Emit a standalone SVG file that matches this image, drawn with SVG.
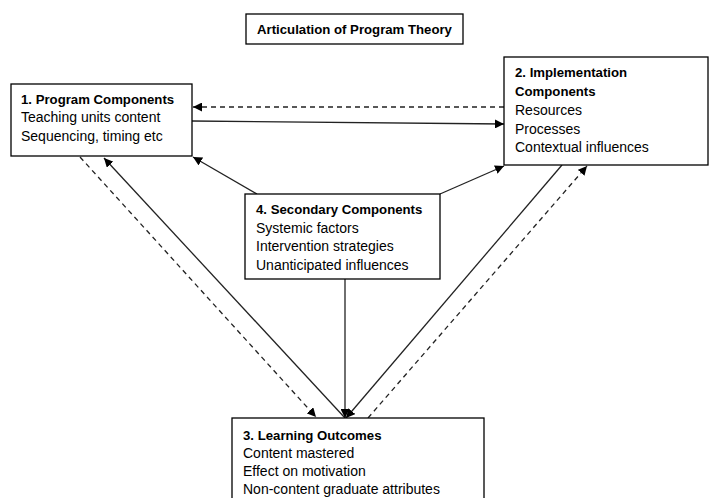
<svg xmlns="http://www.w3.org/2000/svg" width="709" height="498" viewBox="0 0 709 498">
<defs>
<marker id="ah" viewBox="0 0 10 10" refX="10" refY="5" markerWidth="9" markerHeight="9" markerUnits="userSpaceOnUse" orient="auto">
<path d="M0,0 L10,5 L0,10 z" fill="#000"/>
</marker>
<style>
.box{fill:#fff;stroke:#000;stroke-width:1.3}
text{font-family:"Liberation Sans",Arial,sans-serif;font-size:14px;fill:#000}
.b{font-weight:bold;font-size:13.2px}
.ln{stroke:#222;stroke-width:1.3;fill:none}
.d{stroke-dasharray:5,4}
</style>
</defs>
<rect width="709" height="498" fill="#fff"/>
<g id="connectors">
<line class="ln d" x1="504" y1="107" x2="193" y2="107" marker-end="url(#ah)"/>
<line class="ln" x1="192" y1="121" x2="504" y2="124" marker-end="url(#ah)"/>
<line class="ln" x1="257" y1="194" x2="193" y2="157" marker-end="url(#ah)"/>
<line class="ln" x1="440" y1="194" x2="504" y2="166" marker-end="url(#ah)"/>
<line class="ln d" x1="80" y1="157" x2="316" y2="417" marker-end="url(#ah)"/>
<line class="ln" x1="345" y1="418" x2="104" y2="158" marker-end="url(#ah)"/>
<line class="ln" x1="345" y1="279" x2="345" y2="418" marker-end="url(#ah)"/>
<line class="ln" x1="562" y1="165" x2="346" y2="418" marker-end="url(#ah)"/>
<line class="ln d" x1="368" y1="418" x2="587" y2="166" marker-end="url(#ah)"/>
</g>
<g id="title">
<rect class="box" x="246" y="14" width="217" height="30"/>
<text class="b" x="354.5" y="34" text-anchor="middle">Articulation of Program Theory</text>
</g>
<g id="node1">
<rect class="box" x="11" y="84" width="181" height="72"/>
<text class="b" x="21" y="104">1. Program Components</text>
<text x="21" y="122">Teaching units content</text>
<text x="21" y="141">Sequencing, timing etc</text>
</g>
<g id="node2">
<rect class="box" x="504" y="57" width="204" height="108"/>
<text class="b" x="515" y="77">2. Implementation</text>
<text class="b" x="515" y="96">Components</text>
<text x="515" y="115">Resources</text>
<text x="515" y="134">Processes</text>
<text x="515" y="152">Contextual influences</text>
</g>
<g id="node4">
<rect class="box" x="245" y="194" width="195" height="85"/>
<text class="b" x="256" y="214">4. Secondary Components</text>
<text x="256" y="233">Systemic factors</text>
<text x="256" y="251">Intervention strategies</text>
<text x="256" y="270">Unanticipated influences</text>
</g>
<g id="node3">
<rect class="box" x="232" y="418" width="252" height="90"/>
<text class="b" x="243" y="440">3. Learning Outcomes</text>
<text x="243" y="458">Content mastered</text>
<text x="243" y="476">Effect on motivation</text>
<text x="243" y="494">Non-content graduate attributes</text>
</g>
</svg>
